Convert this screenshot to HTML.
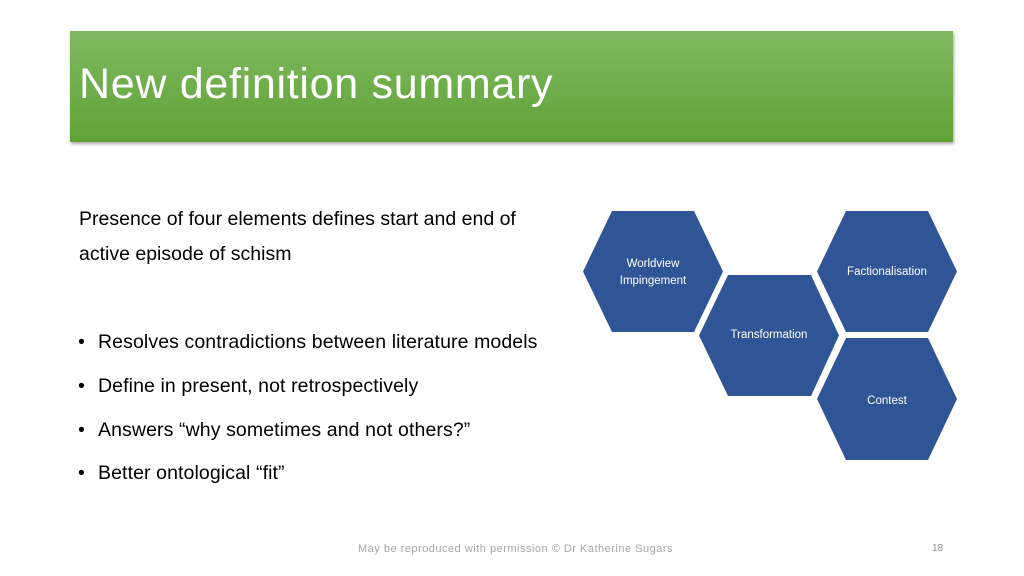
<!DOCTYPE html>
<html><head><style>
body{margin:0;width:1024px;height:576px;background:#fff;position:relative;overflow:hidden;font-family:"Liberation Sans",sans-serif;}
.title{position:absolute;left:70px;top:31px;width:883px;height:111px;background:linear-gradient(#80b961,#5fa235);box-shadow:1px 2px 3px rgba(0,0,0,.35);}
.title span{position:absolute;left:9px;top:29px;color:#fff;font-size:43px;letter-spacing:0.7px;white-space:nowrap;}
.t{position:absolute;color:#000;font-size:19.5px;white-space:nowrap;}
.b{position:absolute;left:98px;font-size:19.5px;letter-spacing:0.1px;white-space:nowrap;}
.b:before{content:"•";position:absolute;left:-20px;}
</style></head><body>
<div class="title"><span>New definition summary</span></div>
<div class="t" style="left:79px;top:208px;">Presence of four elements defines start and end of</div>
<div class="t" style="left:79px;top:243px;">active episode of schism</div>
<div class="b" style="top:331px;">Resolves contradictions between literature models</div>
<div class="b" style="top:375px;">Define in present, not retrospectively</div>
<div class="b" style="top:419px;">Answers “why sometimes and not others?”</div>
<div class="b" style="top:462px;">Better ontological “fit”</div>
<svg style="position:absolute;left:0;top:0" width="1024" height="576" font-family="Liberation Sans, sans-serif" font-size="11.5" fill="#fff" text-anchor="middle">
<g fill="#2f5597">
<polygon points="612,211 694,211 723,271.5 694,332 612,332 583,271.5"/>
<polygon points="728,275 811,275 839,335.5 811,396 728,396 699,335.5"/>
<polygon points="846,211 928,211 957,271.5 928,332 846,332 817,271.5"/>
<polygon points="846,338 928,338 957,399 928,460 846,460 817,399"/>
</g>
<text x="653" y="267">Worldview</text>
<text x="653" y="284">Impingement</text>
<text x="769" y="338">Transformation</text>
<text x="887" y="275">Factionalisation</text>
<text x="887" y="404">Contest</text>
</svg>
<div style="position:absolute;left:358px;top:543px;font-size:11px;letter-spacing:0.5px;color:#a6a6a6;white-space:nowrap;">May be reproduced with permission © Dr Katherine Sugars</div>
<div style="position:absolute;left:932px;top:543px;font-size:10px;color:#8c8c8c;">18</div>
</body></html>
